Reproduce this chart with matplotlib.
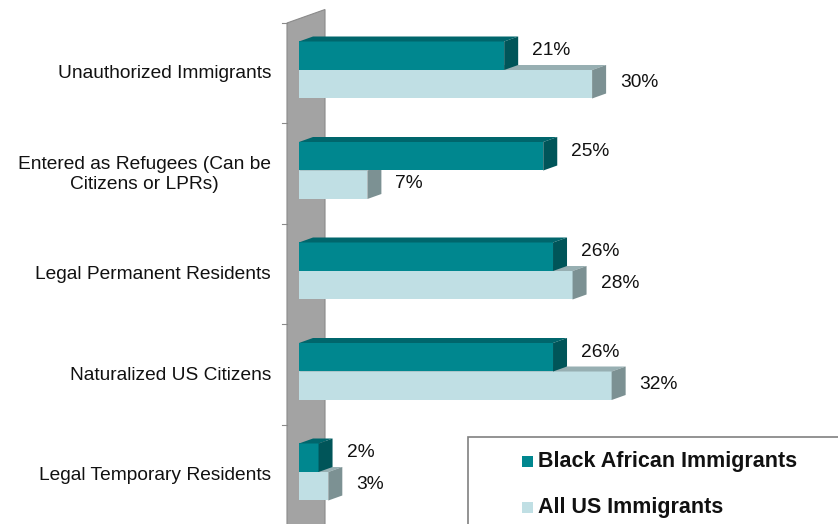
import matplotlib.pyplot as plt
from matplotlib.patches import Polygon, Rectangle

plt.rcParams['font.family'] = ['Liberation Sans', 'DejaVu Sans']

# data
categories = ["Unauthorized Immigrants",
              "Entered as Refugees (Can be\nCitizens or LPRs)",
              "Legal Permanent Residents",
              "Naturalized US Citizens",
              "Legal Temporary Residents"]
black_african = [21, 25, 26, 26, 2]
all_us = [30, 7, 28, 32, 3]
series_names = ["Black African Immigrants", "All US Immigrants"]

# face colours: front, top, side
dark_faces = ("#00878F", "#00666C", "#005559")
light_faces = ("#C0DFE4", "#97AFB2", "#7C9193")
wall_color = "#A3A3A3"

W, H = 838, 524
PX_PCT = 9.77     # pixels per percentage point
PX_ROW = 100.5    # pixels per category row
X0_PX = 299       # where 0% sits
ROW0_PX = 70      # centre of the first row from top

fig = plt.figure(figsize=(W / 100, H / 100), dpi=100)
ax = fig.add_axes([X0_PX / W, 0, (W - X0_PX) / W, 1])
ax.set_xlim(0, (W - X0_PX) / PX_PCT)
ax.set_ylim((H - ROW0_PX) / PX_ROW, -ROW0_PX / PX_ROW)
ax.axis("off")


def px_x(p):
    return p / PX_PCT


def px_y(p):
    return p / PX_ROW


dx, dy = px_x(14), -px_y(5)
bar_h = px_y(28.5)


def box(x1, ytop, ybot, faces, z):
    front, top, side = faces
    x0 = 0
    ax.add_patch(Rectangle((x0, ytop), x1 - x0, ybot - ytop, fc=front, lw=0, zorder=z))
    ax.add_patch(Polygon([(x0, ytop), (x0 + dx, ytop + dy), (x1 + dx, ytop + dy), (x1, ytop)],
                         closed=True, fc=top, lw=0, zorder=z))
    ax.add_patch(Polygon([(x1, ytop), (x1 + dx, ytop + dy), (x1 + dx, ybot + dy), (x1, ybot)],
                         closed=True, fc=side, lw=0, zorder=z))


# side wall behind the bars
wf, wb = -px_x(12), px_x(26)
wdy = -px_y(13.5)
w_top = -px_y(47)
w_bot = len(categories) - 0.5 + 0.5
ax.add_patch(Polygon([(wf, w_top), (wb, w_top + wdy), (wb, w_bot + wdy), (wf, w_bot)],
                     closed=True, fc=wall_color, ec="#8A8A8A", lw=0.8, zorder=1,
                     clip_on=False))
for i in range(len(categories) + 1):
    yt = i + w_top
    ax.plot([wf - px_x(5), wf], [yt, yt], color="#8A8A8A", lw=0.8, zorder=1,
            clip_on=False)

for i, cat in enumerate(categories):
    # light bar sits under the dark one, draw it first
    box(all_us[i], i, i + bar_h, light_faces, 2 + i * 2)
    box(black_african[i], i - bar_h, i, dark_faces, 3 + i * 2)

    ax.text(black_african[i] + px_x(28), i - px_y(19), f"{black_african[i]}%",
            ha="left", va="center", fontsize=13.8, color="#111111", zorder=20)
    ax.text(all_us[i] + px_x(28), i + px_y(13), f"{all_us[i]}%",
            ha="left", va="center", fontsize=13.8, color="#111111", zorder=20)

    ax.text(-px_x(28), i + px_y(4), cat, ha="right", va="center",
            multialignment="center", linespacing=1.25, fontsize=13.8,
            color="#111111", clip_on=False)

# legend box running off the bottom-right corner
fig.add_artist(Rectangle((468 / W, -0.1), 0.6, (H - 437) / H + 0.1,
                         transform=fig.transFigure, fill=False, ec="#808080", lw=1.2))
for k, (name, col) in enumerate(zip(series_names, (dark_faces[0], light_faces[0]))):
    base = 467 + k * 46
    fig.add_artist(Rectangle((522 / W, (H - base) / H), 11 / W, 11 / H,
                             transform=fig.transFigure, fc=col, lw=0))
    fig.text(538 / W, (H - base) / H, name, ha="left", va="baseline",
             fontsize=15.5, fontweight="bold", color="#111111")

fig.savefig("out.png", dpi=100)
